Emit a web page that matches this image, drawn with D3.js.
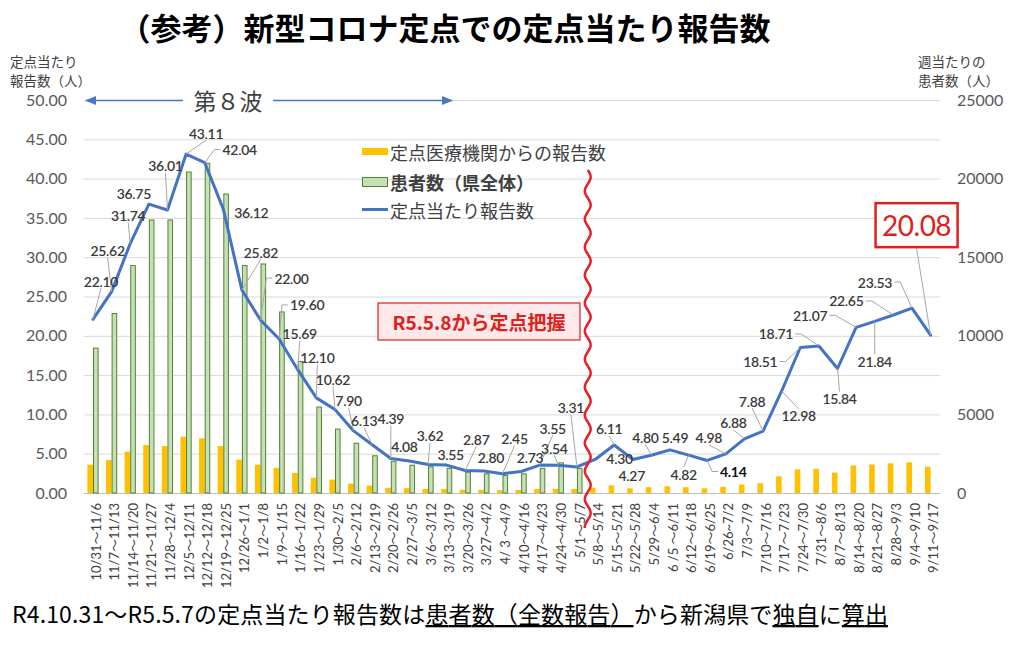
<!DOCTYPE html>
<html><head><meta charset="utf-8">
<script src="https://cdn.jsdelivr.net/npm/d3@7"></script>
<style>
html,body{margin:0;padding:0;background:#fff;}
svg{display:block;font-family:Lato,"Noto Sans CJK JP",sans-serif;}
</style></head><body>
<svg id="chart" width="1024" height="653"></svg>
<script>
// ---------------- data ----------------
const categories = [
  "10/31～11/6","11/7～11/13","11/14～11/20","11/21～11/27","11/28～12/4","12/5～12/11",
  "12/12～12/18","12/19～12/25","12/26～1/1","1/2～1/8","1/9～1/15","1/16～1/22",
  "1/23～1/29","1/30～2/5","2/6～2/12","2/13～2/19","2/20～2/26","2/27～3/5",
  "3/6～3/12","3/13～3/19","3/20～3/26","3/27～4/2","4/ 3 ～4/9","4/10～4/16",
  "4/17～4/23","4/24～4/30","5/1～5/7","5/8～5/14","5/15～5/21","5/22～5/28",
  "5/29～6/4","6 /5 ～6/11","6/12～6/18","6/19～6/25","6/26~7/2","7/3～7/9",
  "7/10～7/16","7/17～7/23","7/24～7/30","7/31～8/6","8/7～8/13","8/14～8/20",
  "8/21～8/27","8/28～9/3","9/4～9/10","9/11～9/17"
];
// 定点当たり報告数 (left axis)
const perSentinel = [
  22.10,25.62,31.74,36.75,36.01,43.11,42.04,36.12,25.82,22.00,19.60,15.69,
  12.10,10.62,7.90,6.13,4.39,4.08,3.62,3.55,2.87,2.80,2.45,2.73,3.55,3.54,3.31,
  4.30,6.11,4.27,4.80,5.49,4.82,4.14,4.98,6.88,7.88,12.98,18.51,18.71,15.84,
  21.07,21.84,22.65,23.53,20.08
];
// 患者数（県全体） (right axis) – only until 5/7
const patients = [
  9250,11450,14500,17400,17400,20450,21000,19050,14500,14600,11550,8400,
  5500,4100,3200,2400,2050,1800,1700,1600,1350,1250,1150,1250,1600,1950,1600
];
// 定点医療機関からの報告数 (right axis)
const reports = [
  1800,2100,2630,3050,2990,3580,3480,2990,2120,1800,1600,1280,
  970,850,600,470,330,310,260,250,210,200,180,190,260,260,250,
  330,480,300,370,430,370,300,390,540,620,1060,1500,1540,1300,
  1745,1815,1885,1950,1670
];
const leftTicks = [0,5,10,15,20,25,30,35,40,45,50];
const rightTicks = [0,5000,10000,15000,20000,25000];
const legendLabels = ["定点医療機関からの報告数","患者数（県全体）","定点当たり報告数"];
const titleText = "（参考）新型コロナ定点での定点当たり報告数";
const waveText = "第８波";
const noteText = "R5.5.8から定点把握";

// label placement (offset of label centre from its point, leader flag)
const labelPlacement = [
  [8,-38,1],[-4,-41,1],[-2,-28,1],[-15,-11,0],[-2,-44,1],[20,-21,1],[35,-13,1],[28,3,0],
  [19,-38,1],[31,-42,1],[28,-34,1],[2,-36,1],[1,-40,1],[-2,-30,1],[-5,-30,1],[-8,-24,1],
  [0,-40,1],[-5,-14,0],[2,-29,1],[4,-11,0],[11,-31,1],[7,-13,0],[12,-35,1],[9,-14,0],
  [13,-37,1],[-4,-17,1],[-6,-59,1],
  [24,-1,0],[-5,-16,1],[-1,16,0],[-6,-18,1],[5,-12,0],[-5,19,1],[26,11,1],[-17,-16,1],
  [-11,-16,1],[-11,-30,1],[17,25,1],[-40,14,1],[-43,-12,1],[2,30,1],[-46,-12,1],[0,40,1],
  [-47,-14,1],[-37,-26,1],[-14,-110,1]
];

// ---------------- chart ----------------
const svg = d3.select("#chart");
const plot = {left:83.7, right:939.9, top:100, bottom:493};

const x = d3.scaleBand().domain(categories).range([plot.left, plot.right]).paddingInner(0).paddingOuter(0);
const xc = d => x(d) + x.bandwidth()/2;
const sub = d3.scaleBand().domain(["report","patients"]).range([-5.6,5.6]);
const yL = d3.scaleLinear().domain([0,50]).range([plot.bottom, plot.top]);
const yR = d3.scaleLinear().domain([0,25000]).range([plot.bottom, plot.top]);

// title
svg.append("text").attr("x",445).attr("y",26).attr("text-anchor","middle")
  .attr("dominant-baseline","central")
  .style("font-family","'Noto Sans CJK JP'").style("font-weight","bold").style("font-size","31px")
  .attr("fill","#000").text(titleText);

// gridlines
svg.append("g").selectAll("line").data(leftTicks).join("line")
  .attr("x1",plot.left).attr("x2",plot.right)
  .attr("y1",d=>yL(d)+0.5).attr("y2",d=>yL(d)+0.5)
  .attr("stroke",d=>d===0?"#bfbfbf":"#d9d9d9").attr("stroke-width",1);

// axes
const gL = svg.append("g").attr("transform",`translate(72,0)`)
  .call(d3.axisLeft(yL).tickValues(leftTicks).tickFormat(d3.format(".2f")).tickSize(0).tickPadding(5));
const gR = svg.append("g").attr("transform",`translate(952,0)`)
  .call(d3.axisRight(yR).tickValues(rightTicks).tickFormat(d3.format("d")).tickSize(0).tickPadding(5));
[gL,gR].forEach(g=>{
  g.select(".domain").remove();
  g.selectAll("text").style("font-family","Lato").style("font-size","16px").attr("fill","#595959");
});

const gX = svg.append("g").attr("transform",`translate(0,${plot.bottom})`)
  .call(d3.axisBottom(x).tickSize(0));
gX.select(".domain").remove();
gX.selectAll("text")
  .attr("transform","rotate(-90)").attr("x",-10).attr("y",3).attr("dy","0.35em")
  .style("text-anchor","end").style("font-family","Lato,'Noto Sans CJK JP'").style("font-size","13px")
  .attr("fill","#404040");

// axis titles
const axisTitle = (x0,y0,lines)=>{
  lines.forEach((t,i)=>svg.append("text").attr("x",x0).attr("y",y0+i*19.5)
    .attr("dominant-baseline","central").style("font-family","'Noto Sans CJK JP'")
    .style("font-size","13.5px").attr("fill","#404040").text(t));
};
axisTitle(10,60.5,["定点当たり","報告数（人）"]);
axisTitle(918,60.5,["週当たりの","患者数（人）"]);

// bars
svg.append("g").selectAll("rect").data(reports).join("rect")
  .attr("x",(d,i)=>xc(categories[i])+sub("report"))
  .attr("width",sub.bandwidth())
  .attr("y",d=>yR(d)).attr("height",d=>yR(0)-yR(d))
  .attr("fill","#ffc000");
svg.append("g").selectAll("rect").data(patients).join("rect")
  .attr("x",(d,i)=>xc(categories[i])+sub("patients")+0.5)
  .attr("width",sub.bandwidth()-1)
  .attr("y",d=>yR(d)+0.5).attr("height",d=>yR(0)-yR(d)-0.5)
  .attr("fill","#c5e0b4").attr("stroke","#548235").attr("stroke-width",1);

// line
const line = d3.line().x((d,i)=>xc(categories[i])).y(d=>yL(d));
svg.append("path").datum(perSentinel).attr("d",line)
  .attr("fill","none").attr("stroke","#4472c4").attr("stroke-width",3)
  .attr("stroke-linejoin","round").attr("stroke-linecap","round");

// data labels
const gLab = svg.append("g");
const gLead = svg.insert("g", () => gLab.node());
perSentinel.forEach((v,i)=>{
  const px = xc(categories[i]), py = yL(v);
  const [dx,dy,lead] = labelPlacement[i];
  const cx = px+dx, cy = py+dy;
  const last = i === perSentinel.length-1;
  const t = gLab.append("text").attr("x",cx).attr("y",cy)
    .attr("text-anchor","middle").attr("dominant-baseline","central")
    .style("font-family","Lato").style("font-size", last?"28px":"14px")
    .style("letter-spacing", last?"-0.5px":"-0.3px")
    .style("font-weight", (v===4.14)?"bold":(last?"normal":"600"))
    .attr("fill", last?"#e0201b":(v===4.14?"#111":"#3a3a3a"))
    .text(d3.format(".2f")(v));
  const bb = t.node().getBBox();
  let box = {l:bb.x, r:bb.x+bb.width, t:cy-6, b:cy+6};
  if(last){
    box = {l:cx-41, r:cx+41, t:cy-22, b:cy+22};
    gLab.insert("rect","text").attr("x",box.l).attr("y",box.t).attr("width",box.r-box.l).attr("height",box.b-box.t)
      .attr("fill","#fff").attr("stroke","#e0201b").attr("stroke-width",2.5);
  }
  if(!lead) return;
  const w2 = (box.r-box.l)/2;
  let pts;
  if(Math.abs(px-cx) <= w2+4){
    pts = [[cx, py>cy ? box.b+1 : box.t-1],[px,py]];
  } else if(px>cx){
    pts = [[box.r+2,cy],[box.r+8,cy],[px,py]];
  } else {
    pts = [[box.l-2,cy],[box.l-8,cy],[px,py]];
  }
  gLead.append("path").attr("d",d3.line()(pts)).attr("fill","none")
    .attr("stroke","#a6a6a6").attr("stroke-width",1);
});

// legend
const lg = svg.append("g");
lg.append("rect").attr("x",362).attr("y",148).attr("width",26).attr("height",7).attr("fill","#ffc000");
lg.append("rect").attr("x",362.5).attr("y",177.5).attr("width",25).attr("height",9)
  .attr("fill","#c5e0b4").attr("stroke","#548235");
lg.append("line").attr("x1",362).attr("x2",388).attr("y1",209.5).attr("y2",209.5)
  .attr("stroke","#4472c4").attr("stroke-width",3);
legendLabels.forEach((t,i)=>{
  lg.append("text").attr("x",390).attr("y",[152,182,210][i]).attr("dominant-baseline","central")
    .style("font-family","'Noto Sans CJK JP'").style("font-size","18px")
    .style("font-weight", i===1?"bold":"normal").attr("fill","#404040").text(t);
});

// 第8波 arrow
const defs = svg.append("defs");
defs.append("marker").attr("id","ah").attr("viewBox","0 0 10 10").attr("refX",9).attr("refY",5)
  .attr("markerWidth",7).attr("markerHeight",7).attr("orient","auto-start-reverse")
  .append("path").attr("d","M0,1 L10,5 L0,9 Z").attr("fill","#4a78c0");
svg.append("line").attr("x1",86).attr("x2",452).attr("y1",100.5).attr("y2",100.5)
  .attr("stroke","#4a78c0").attr("stroke-width",1.6)
  .attr("marker-start","url(#ah)").attr("marker-end","url(#ah)");
svg.append("rect").attr("x",183).attr("y",88).attr("width",90).attr("height",24).attr("fill","#fff");
svg.append("text").attr("x",228).attr("y",100).attr("text-anchor","middle").attr("dominant-baseline","central")
  .style("font-family","'Noto Sans CJK JP'").style("font-size","23px").attr("fill","#404040").text(waveText);

// R5.5.8 note
svg.append("rect").attr("x",378).attr("y",303).attr("width",202).attr("height",37)
  .attr("fill","#fde9e9").attr("stroke","#e0201b").attr("stroke-width",1.2);
svg.append("text").attr("x",479).attr("y",321.5).attr("text-anchor","middle").attr("dominant-baseline","central")
  .style("font-family","'Noto Sans CJK JP'").style("font-weight","bold").style("font-size","19px")
  .attr("fill","#e0201b").text(noteText);

// red wavy divider between 5/1～5/7 and 5/8～5/14
const bx = x(categories[27]) + 1.5;
const wavePts = d3.range(170, 529, 2).map(y=>[bx + 3*Math.sin((y-170)/28*2*Math.PI), y]);
svg.append("path").attr("d",d3.line().curve(d3.curveBasis)(wavePts))
  .attr("fill","none").attr("stroke","#e8202a").attr("stroke-width",2.5);

// footer
const ft = svg.append("text").attr("x",12).attr("y",613).attr("dominant-baseline","central")
  .style("font-family","'Noto Sans CJK JP'").style("font-size","23px").attr("fill","#000")
  .attr("textLength",876).attr("lengthAdjust","spacing");
[["R4.10.31～R5.5.7の定点当たり報告数は",false],["患者数（全数報告）",true],["から新潟県で",false],
 ["独自",true],["に",false],["算出",true]].forEach(([t,u])=>{
  ft.append("tspan").style("text-decoration",u?"underline":"none").text(t);
});
</script>
</body></html>
